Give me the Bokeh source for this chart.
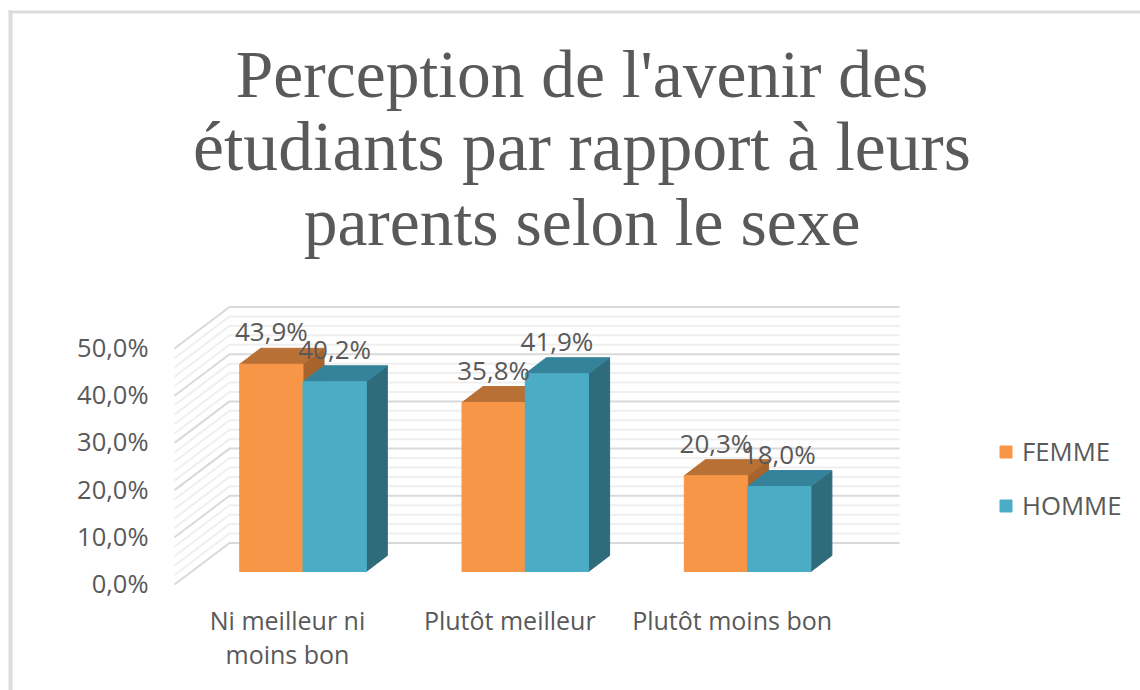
from bokeh.plotting import figure
from bokeh.models import BoxAnnotation, Legend, LegendItem, FixedTicker, Range1d, ColumnDataSource
from bokeh.core.properties import value
from bokeh.embed import file_html
from bokeh.resources import INLINE

categories = ["Ni meilleur ni\nmoins bon", "Plutôt meilleur", "Plutôt moins bon"]
femme = [43.9, 35.8, 20.3]
homme = [40.2, 41.9, 18.0]
femme_labels = ["43,9%", "35,8%", "20,3%"]
homme_labels = ["40,2%", "41,9%", "18,0%"]
y_ticks = [0, 10, 20, 30, 40, 50]
y_tick_labels = ["0,0%", "10,0%", "20,0%", "30,0%", "40,0%", "50,0%"]
y_minor = [v for v in range(0, 51, 2) if v % 10]
title_lines = ["Perception de l'avenir des", "étudiants par rapport à leurs", "parents selon le sexe"]

W, H = 1140, 690
GRAY = "#595959"
PX_X, PX_Y = 222.3, 4.72         # px per category, px per percent
X0_PAGE, Y0_PAGE = 287, 582.5    # px of category 0 and of value 0


def X(px):
    return (px - X0_PAGE) / PX_X


def Y(py):
    return (Y0_PAGE - py) / PX_Y


p = figure(width=W, height=H, output_backend="svg", toolbar_location=None,
           x_range=Range1d(X(0), X(W)), y_range=Range1d(Y(H), Y(0)),
           min_border_left=0, min_border_right=0, min_border_top=0, min_border_bottom=0,
           outline_line_color=None, background_fill_color="white", border_fill_color="white")
p.grid.visible = False

# axes
p.yaxis.fixed_location = X(174)
p.yaxis.ticker = FixedTicker(ticks=y_ticks)
p.yaxis.major_label_overrides = dict(zip(y_ticks, y_tick_labels))
p.yaxis.axis_line_color = None
p.yaxis.major_tick_line_color = None
p.yaxis.minor_tick_line_color = None
p.yaxis.major_label_standoff = 20
p.yaxis.major_label_text_font = "Open Sans"
p.yaxis.major_label_text_font_size = "25.5px"
p.yaxis.major_label_text_color = GRAY

p.xaxis.fixed_location = Y(590)
p.xaxis.ticker = FixedTicker(ticks=list(range(len(categories))))
p.xaxis.major_label_overrides = dict(enumerate(categories))
p.xaxis.axis_line_color = None
p.xaxis.major_tick_line_color = None
p.xaxis.minor_tick_line_color = None
p.xaxis.major_label_standoff = 6
p.xaxis.major_label_text_font = "Open Sans"
p.xaxis.major_label_text_font_size = "25px"
p.xaxis.major_label_text_line_height = 1.0
p.xaxis.major_label_text_color = GRAY

# chart walls
WALL_L, WALL_R = X(229), X(899)
for vals, col, lw in ((y_minor, "#efefef", 2), (y_ticks, "#d9d9d9", 2)):
    xs = [[X(174), WALL_L, WALL_R] for _ in vals]
    ys = [[v + Y(584), v + Y(542.5), v + Y(542.5)] for v in vals]
    p.multi_line(xs, ys, line_color=col, line_width=lw)

# bars
BAR_W = 63.3 / PX_X
BASE = Y(571)
DX, DY = 21 / PX_X, 16 / PX_Y
GROUP = 15.5 / PX_X


def bars(vals, shift, front, top, side):
    left = [i + GROUP + shift for i in range(len(vals))]
    right = [l + BAR_W for l in left]
    tops = [BASE + v for v in vals]
    p.patches([[r, r + DX, r + DX, r] for r in right],
              [[BASE, BASE + DY, t + DY, t] for t in tops], fill_color=side, line_color=side)
    p.patches([[l, l + DX, r + DX, r] for l, r in zip(left, right)],
              [[t, t + DY, t + DY, t] for t in tops], fill_color=top, line_color=top)
    return p.vbar(x=[(l + r) / 2 for l, r in zip(left, right)], width=BAR_W, bottom=BASE, top=tops,
                  fill_color=front, line_color=front)


r_f = bars(femme, -BAR_W, "#F79646", "#B97035", "#A6632C")
r_h = bars(homme, 0, "#4BACC6", "#35839A", "#2E6B7B")

# data labels
for vals, labels, shift in ((femme, femme_labels, -BAR_W / 2), (homme, homme_labels, BAR_W / 2)):
    p.text([i + GROUP + shift for i in range(len(vals))], [BASE + v for v in vals], text=labels,
           text_font=value("Open Sans"), text_font_size="26px", text_color=GRAY,
           text_align="center", text_baseline="middle", y_offset=-33)

# title
title_src = ColumnDataSource(dict(x=[X(581.5)] * 3, y=[Y(74), Y(146), Y(222)], text=title_lines,
                                  size=["67.5px", "69.7px", "67.5px"]))
p.text("x", "y", text="text", source=title_src, text_font=value("Liberation Serif"),
       text_font_size="size", text_color=GRAY, text_align="center", text_baseline="middle")

# legend
legend = Legend(items=[LegendItem(label="FEMME", renderers=[r_f]), LegendItem(label="HOMME", renderers=[r_h])],
                location=(998, H - 523), orientation="vertical", border_line_color=None,
                background_fill_alpha=0, glyph_width=15, glyph_height=15, label_standoff=9,
                spacing=19, padding=0, margin=0, label_text_font="Open Sans",
                label_text_font_size="25.7px", label_text_color=GRAY)
p.add_layout(legend)

# frame of the picture
for l, r, t, b in ((8, 12, 10, H), (8, W, 10, 13)):
    p.add_layout(BoxAnnotation(left=l, right=r, top=t, bottom=b, left_units="canvas", right_units="canvas",
                               top_units="canvas", bottom_units="canvas", fill_color="#dcdcdc", fill_alpha=1,
                               line_color=None))

open("out.html", "w").write(file_html(p, INLINE))
